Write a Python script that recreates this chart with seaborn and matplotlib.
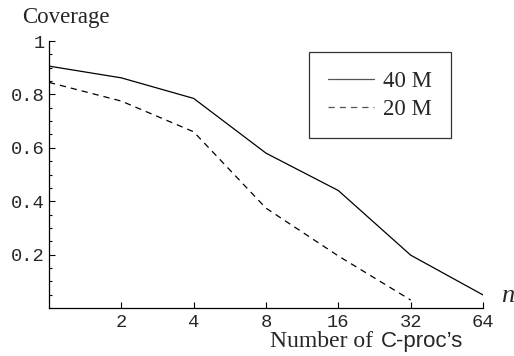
import numpy as np
import pandas as pd
import seaborn as sns
import matplotlib
matplotlib.use('Agg')
import matplotlib.pyplot as plt
from matplotlib.ticker import FixedLocator, MultipleLocator, NullFormatter

# Donnees
n_procs_40 = [1, 2, 4, 8, 16, 32, 64]
coverage_40 = [0.906, 0.862, 0.785, 0.58, 0.44, 0.198, 0.049]
n_procs_20 = [1, 2, 4, 8, 16, 32]
coverage_20 = [0.845, 0.775, 0.66, 0.374, 0.195, 0.03]
series_labels = ['40 M', '20 M']
x_ticks = [2, 4, 8, 16, 32, 64]

df = pd.concat([
    pd.DataFrame({'n': n_procs_40, 'coverage': coverage_40, 'serie': series_labels[0]}),
    pd.DataFrame({'n': n_procs_20, 'coverage': coverage_20, 'serie': series_labels[1]}),
])

sns.set_style('ticks')
plt.rcParams['font.family'] = ['Liberation Serif', 'DejaVu Serif']

fig = plt.figure(figsize=(5.14, 3.56), dpi=100)
ax = fig.add_axes([0.0953, 0.1348, 0.8444, 0.75])

sns.lineplot(data=df, x='n', y='coverage', style='serie', color='black',
             dashes={'40 M': '', '20 M': (5, 4)}, linewidth=0.9, ax=ax, legend=False)

ax.set_xscale('log', base=2)
ax.set_xlim(1, 64)
ax.set_ylim(0, 1)

ax.xaxis.set_major_locator(FixedLocator(x_ticks))
ax.xaxis.set_minor_locator(FixedLocator([]))
ax.set_xticklabels([str(t) for t in x_ticks])
ax.yaxis.set_major_locator(FixedLocator([0.2, 0.4, 0.6, 0.8, 1.0]))
ax.yaxis.set_minor_locator(MultipleLocator(0.05))
ax.set_yticklabels(['0.2', '0.4', '0.6', '0.8', '1'])
ax.yaxis.set_minor_formatter(NullFormatter())

ax.tick_params(axis='both', which='major', direction='in', length=4, width=0.8, color='black')
ax.tick_params(axis='y', which='minor', direction='in', length=2.5, width=0.8, color='black')
for lab in ax.get_xticklabels() + ax.get_yticklabels():
    lab.set_family('Liberation Mono')
    lab.set_fontsize(13.5)
ax.tick_params(axis='x', pad=4)
ax.tick_params(axis='y', pad=3)

sns.despine(ax=ax)
for s in ['left', 'bottom']:
    ax.spines[s].set_linewidth(0.9)
    ax.spines[s].set_color('black')

ax.set_xlabel('')
ax.set_ylabel('')
fig.text(0.043, 0.935, 'Coverage', fontsize=16.5, ha='left', va='baseline')
# titre de l'axe x : "Number of" en serif, "C-proc's" en sans
fig.text(0.737, 0.025, 'Number of ', fontsize=17, ha='right', va='baseline')
fig.text(0.741, 0.025, "C-proc\u2019s", fontsize=16, ha='left', va='baseline',
         family=['Liberation Sans', 'DejaVu Sans'])
fig.text(0.987, 0.152, 'n', fontsize=19, style='italic', ha='center', va='baseline')

# Legende
lines = ax.get_lines()
leg = ax.legend(lines[:2], series_labels, loc='upper left', bbox_to_anchor=(0.599, 0.959),
                frameon=True, fancybox=False, fontsize=16.5, handlelength=2.0,
                borderpad=0.82, labelspacing=0.3, borderaxespad=0, handletextpad=0.4)
leg.get_frame().set_edgecolor('black')
leg.get_frame().set_linewidth(0.9)
for h in leg.get_lines():
    h.set_color('#555555')

fig.savefig('out.png', dpi=100)
